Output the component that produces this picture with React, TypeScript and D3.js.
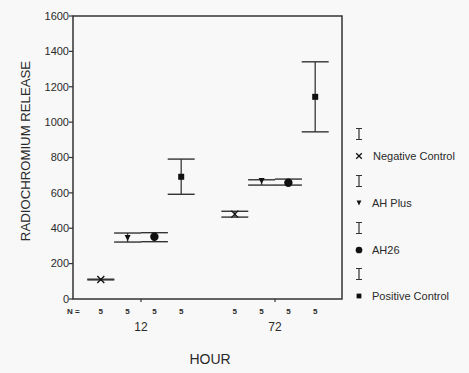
import { useRef, useEffect } from 'react';
import * as d3 from 'd3';

const groups = ['Negative Control', 'AH Plus', 'AH26', 'Positive Control'];
const hours = ['12', '72'];
const nCounts = [5, 5, 5, 5, 5, 5, 5, 5];
const mean12 = [110, 345, 352, 691];
const lo12 = [108, 322, 324, 592];
const hi12 = [112, 373, 375, 791];
const mean72 = [480, 667, 657, 1143];
const lo72 = [463, 644, 644, 945];
const hi72 = [496, 674, 678, 1341];
const yTicks = [0, 200, 400, 600, 800, 1000, 1200, 1400, 1600];

const W = 469;
const H = 373;

export default function App() {
  const svgRef = useRef<SVGSVGElement>(null);

  useEffect(() => {
    const svg = d3.select(svgRef.current);
    svg.selectAll('*').remove();

    const left = 73;
    const right = 342;
    const top = 16;
    const bottom = 299;
    const ink = '#2a2a2a';
    const font = 'Arial, "Liberation Sans", sans-serif';

    const x = d3.scaleLinear().domain([-1, 9]).range([left + 1, right]);
    const y = d3.scaleLinear().domain([0, 1600]).range([bottom, top]);

    // rows: hour block then group
    const rows = [
      ...groups.map((g, i) => ({ g: i, slot: i, mean: mean12[i], lo: lo12[i], hi: hi12[i] })),
      ...groups.map((g, i) => ({ g: i, slot: i + 5, mean: mean72[i], lo: lo72[i], hi: hi72[i] })),
    ];

    // frame
    svg
      .append('rect')
      .attr('x', left)
      .attr('y', top)
      .attr('width', right - left)
      .attr('height', bottom - top)
      .attr('fill', 'none')
      .attr('stroke', '#333')
      .attr('stroke-width', 1.5);

    // y ticks
    const yg = svg.append('g');
    yTicks.forEach((t) => {
      yg.append('line')
        .attr('x1', left - 4)
        .attr('x2', left)
        .attr('y1', y(t))
        .attr('y2', y(t))
        .attr('stroke', '#333')
        .attr('stroke-width', 1.2);
      yg.append('text')
        .attr('x', left - 4)
        .attr('y', y(t))
        .attr('dy', '0.35em')
        .attr('text-anchor', 'end')
        .attr('font-family', font)
        .attr('font-size', 11)
        .attr('fill', ink)
        .text(t);
    });

    // hour ticks
    hours.forEach((h, i) => {
      const hx = x(1.5 + i * 5);
      svg.append('line')
        .attr('x1', hx).attr('x2', hx)
        .attr('y1', bottom).attr('y2', bottom + 3)
        .attr('stroke', '#333').attr('stroke-width', 1.2);
      svg.append('text')
        .attr('x', hx)
        .attr('y', 327)
        .attr('dy', '0.35em')
        .attr('text-anchor', 'middle')
        .attr('font-family', font)
        .attr('font-size', 12)
        .attr('fill', ink)
        .text(h);
    });

    // N = row
    svg.append('text')
      .attr('x', 67)
      .attr('y', 311)
      .attr('dy', '0.35em')
      .attr('font-family', font)
      .attr('font-size', 8)
      .attr('font-weight', 'bold')
      .attr('fill', ink)
      .text('N =');
    rows.forEach((r, i) => {
      svg.append('text')
        .attr('x', x(r.slot))
        .attr('y', 311)
        .attr('dy', '0.35em')
        .attr('text-anchor', 'middle')
        .attr('font-family', font)
        .attr('font-size', 8)
        .attr('font-weight', 'bold')
        .attr('fill', ink)
        .text(nCounts[i]);
    });

    // markers
    const drawMarker = (g: d3.Selection<SVGGElement, unknown, null, undefined>, k: number, cx: number, cy: number, s = 1) => {
      if (k === 0) {
        const d = 3.5 * s;
        g.append('path')
          .attr('d', `M${cx - d},${cy - d}L${cx + d},${cy + d}M${cx - d},${cy + d}L${cx + d},${cy - d}`)
          .attr('stroke', '#111')
          .attr('stroke-width', 1.3)
          .attr('fill', 'none');
      } else if (k === 1) {
        const d = 3 * s;
        g.append('path')
          .attr('d', `M${cx - d},${cy - d}L${cx + d},${cy - d}L${cx},${cy + d}Z`)
          .attr('fill', '#111');
      } else if (k === 2) {
        g.append('circle').attr('cx', cx).attr('cy', cy).attr('r', 4.2 * s).attr('fill', '#111');
      } else {
        const d = 3 * s;
        g.append('rect')
          .attr('x', cx - d).attr('y', cy - d)
          .attr('width', 2 * d).attr('height', 2 * d)
          .attr('fill', '#111');
      }
    };

    // error bars
    const bars = svg.append('g');
    const cap = 13.5;
    rows.forEach((r) => {
      const cx = x(r.slot);
      bars.append('line')
        .attr('x1', cx).attr('x2', cx)
        .attr('y1', y(r.hi)).attr('y2', y(r.lo))
        .attr('stroke', '#444').attr('stroke-width', 1.4);
      [r.hi, r.lo].forEach((v) => {
        bars.append('line')
          .attr('x1', cx - cap).attr('x2', cx + cap)
          .attr('y1', y(v)).attr('y2', y(v))
          .attr('stroke', '#333').attr('stroke-width', 1.4);
      });
      drawMarker(bars, r.g, cx, y(r.mean));
    });

    // legend
    const lg = svg.append('g');
    const legendY = [156, 203, 250, 296];
    legendY.forEach((ly, i) => {
      const iy = ly - 22;
      lg.append('path')
        .attr('d', `M356,${iy - 5.5}H362M359,${iy - 5.5}V${iy + 5.5}M356,${iy + 5.5}H362`)
        .attr('stroke', '#333')
        .attr('stroke-width', 1.2)
        .attr('fill', 'none');
      drawMarker(lg, i, 359, ly, 0.8);
      lg.append('text')
        .attr('x', i === 0 ? 373 : 372)
        .attr('y', ly)
        .attr('dy', '0.35em')
        .attr('font-family', font)
        .attr('font-size', 11)
        .attr('fill', ink)
        .text(groups[i]);
    });

    // axis titles
    svg.append('text')
      .attr('transform', `translate(30,151) rotate(-90)`)
      .attr('text-anchor', 'middle')
      .attr('font-family', font)
      .attr('font-size', 13.2)
      .attr('fill', ink)
      .text('RADIOCHROMIUM RELEASE');
    svg.append('text')
      .attr('x', 210)
      .attr('y', 359)
      .attr('dy', '0.35em')
      .attr('text-anchor', 'middle')
      .attr('font-family', font)
      .attr('font-size', 14)
      .attr('fill', ink)
      .text('HOUR');
  }, []);

  return (
    <svg
      ref={svgRef}
      width={W}
      height={H}
      style={{ position: 'absolute', left: 0, top: 0, background: '#f8f8f8', display: 'block' }}
    />
  );
}
